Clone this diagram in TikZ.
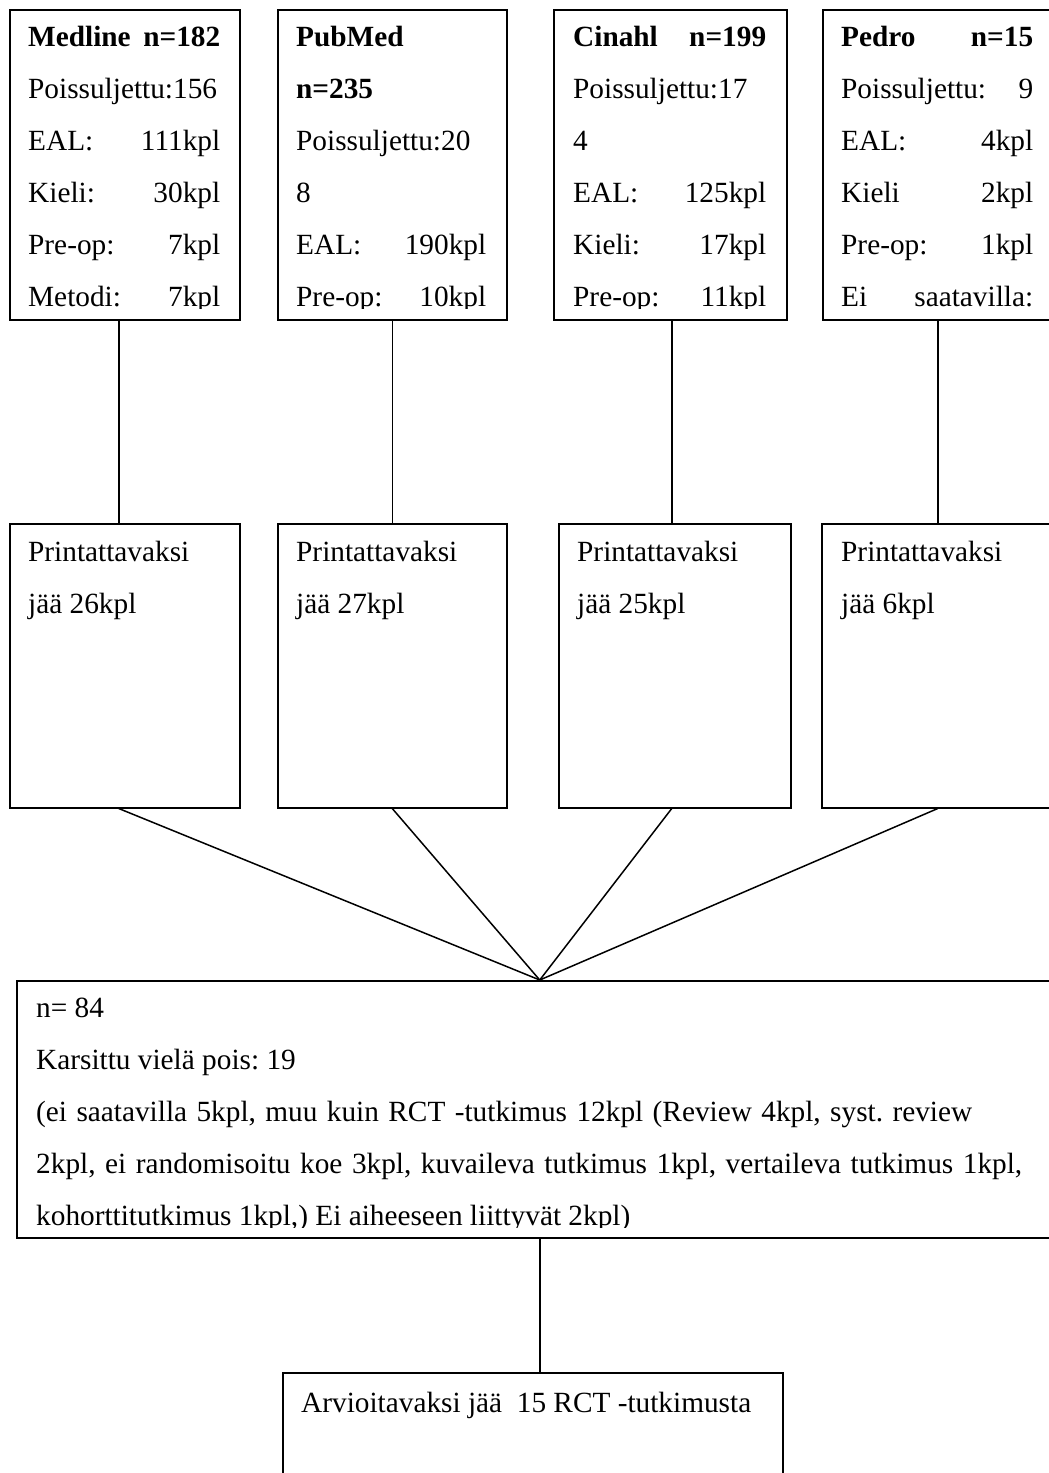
\documentclass[tikz,border=0pt]{standalone}
\usepackage{fontspec}
\setmainfont{Liberation Serif}
\frenchspacing
\begin{document}
\begin{tikzpicture}[x=1pt,y=-1pt,
  box/.style={draw, line width=1.5pt, rectangle, inner sep=0pt, anchor=north west},
  txt/.style={anchor=base west, inner sep=0pt, font=\fontsize{29.3pt}{35pt}\selectfont},
  con/.style={line width=1.5pt}]
\clip (0,0) rectangle (1049,1473);
% top boxes
\node[box, minimum width=230pt, minimum height=310pt] (t1) at (9,9) {};
\node[box, minimum width=229pt, minimum height=310pt] (t2) at (277,9) {};
\node[box, minimum width=233pt, minimum height=310pt] (t3) at (553,9) {};
\node[box, minimum width=230pt, minimum height=310pt] (t4) at (822,9) {};
% middle boxes
\node[box, minimum width=230pt, minimum height=284pt] (p1) at (9,523) {};
\node[box, minimum width=229pt, minimum height=284pt] (p2) at (277,523) {};
\node[box, minimum width=232pt, minimum height=284pt] (p3) at (558,523) {};
\node[box, minimum width=231pt, minimum height=284pt] (p4) at (821,523) {};
% big box
\node[box, minimum width=1046pt, minimum height=257pt] (big) at (16,980) {};
% final box
\node[box, minimum width=500pt, minimum height=160pt] (fin) at (282,1372) {};

% texts top box 1
\begin{scope}
\clip (t1.north west) rectangle ([yshift=12pt]t1.south east);
\node[txt] (t1a) at (28,46) {\hbox to 192pt{\bfseries Medline\hfill n=182}};
\node[txt] (t1b) at (28,98) {Poissuljettu:156};
\node[txt] (t1c) at (28,150) {\hbox to 192pt{EAL:\hfill 111kpl}};
\node[txt] (t1d) at (28,202) {\hbox to 192pt{Kieli:\hfill 30kpl}};
\node[txt] (t1e) at (28,254) {\hbox to 192pt{Pre-op:\hfill 7kpl}};
\node[txt] (t1f) at (28,306) {\hbox to 192pt{Metodi:\hfill 7kpl}};
\end{scope}
\begin{scope}
\clip (t2.north west) rectangle ([yshift=12pt]t2.south east);
\node[txt] (t2a) at (296,46) {\textbf{PubMed}};
\node[txt] (t2b) at (296,98) {\textbf{n=235}};
\node[txt] (t2c) at (296,150) {Poissuljettu:20};
\node[txt] (t2d) at (296,202) {8};
\node[txt] (t2e) at (296,254) {\hbox to 190pt{EAL:\hfill 190kpl}};
\node[txt] (t2f) at (296,306) {\hbox to 190pt{Pre-op:\hfill 10kpl}};
\end{scope}
\begin{scope}
\clip (t3.north west) rectangle ([yshift=12pt]t3.south east);
\node[txt] (t3a) at (573,46) {\hbox to 193pt{\bfseries Cinahl\hfill n=199}};
\node[txt] (t3b) at (573,98) {Poissuljettu:17};
\node[txt] (t3c) at (573,150) {4};
\node[txt] (t3d) at (573,202) {\hbox to 193pt{EAL:\hfill 125kpl}};
\node[txt] (t3e) at (573,254) {\hbox to 193pt{Kieli:\hfill 17kpl}};
\node[txt] (t3f) at (573,306) {\hbox to 193pt{Pre-op:\hfill 11kpl}};
\end{scope}
\begin{scope}
\clip (t4.north west) rectangle ([yshift=12pt]t4.south east);
\node[txt] (t4a) at (841,46) {\hbox to 192pt{\bfseries Pedro\hfill n=15}};
\node[txt] (t4b) at (841,98) {\hbox to 192pt{Poissuljettu:\hfill 9}};
\node[txt] (t4c) at (841,150) {\hbox to 192pt{EAL:\hfill 4kpl}};
\node[txt] (t4d) at (841,202) {\hbox to 192pt{Kieli\hfill 2kpl}};
\node[txt] (t4e) at (841,254) {\hbox to 192pt{Pre-op:\hfill 1kpl}};
\node[txt] (t4f) at (841,306) {\hbox to 192pt{Ei\hfill saatavilla:}};
\end{scope}

% middle texts
\node[txt] (p1a) at (28,561) {Printattavaksi};
\node[txt] (p1b) at (28,613) {jää 26kpl};
\node[txt] (p2a) at (296,561) {Printattavaksi};
\node[txt] (p2b) at (296,613) {jää 27kpl};
\node[txt] (p3a) at (577,561) {Printattavaksi};
\node[txt] (p3b) at (577,613) {jää 25kpl};
\node[txt] (p4a) at (841,561) {Printattavaksi};
\node[txt] (p4b) at (841,613) {jää 6kpl};

% big box texts
\begin{scope}
\clip (big.north west) rectangle ([yshift=11pt]big.south east);
\node[txt] (b1) at (36,1017) {n= 84};
\node[txt] (b2) at (36,1069) {Karsittu vielä pois: 19};
\node[txt] (b3) at (36,1121) {\hbox to 936pt{(ei saatavilla 5kpl, muu kuin RCT -tutkimus 12kpl (Review 4kpl, syst. review}};
\node[txt] (b4) at (36,1173) {\hbox to 986pt{2kpl, ei randomisoitu koe 3kpl, kuvaileva tutkimus 1kpl, vertaileva tutkimus 1kpl,}};
\node[txt] (b5) at (36,1225) {kohorttitutkimus 1kpl,) Ei aiheeseen liittyvät 2kpl)};
\end{scope}

% final text
\node[txt] (f1) at (301,1412) {Arvioitavaksi jää\ \ 15 RCT -tutkimusta};

% connectors top -> middle
\draw[con] ([xshift=-6pt]t1.south) -- ([xshift=-6pt]p1.north);
\draw[con] (t2.south) -- (t2.south |- p2.north);
\draw[con] ([xshift=1.5pt]t3.south) -- ([xshift=1.5pt]t3.south |- p3.north);
\draw[con] (t4.south) -- (t4.south |- p4.north);
% fan to big box
\draw[con] ([xshift=-6pt]p1.south) -- (big.north);
\draw[con] (p2.south) -- (big.north);
\draw[con] ([xshift=-3pt]p3.south) -- (big.north);
\draw[con] ([xshift=0.5pt]p4.south) -- (big.north);
% big -> final
\draw[con] (big.south) -- (big.south |- fin.north);
\end{tikzpicture}
\end{document}
